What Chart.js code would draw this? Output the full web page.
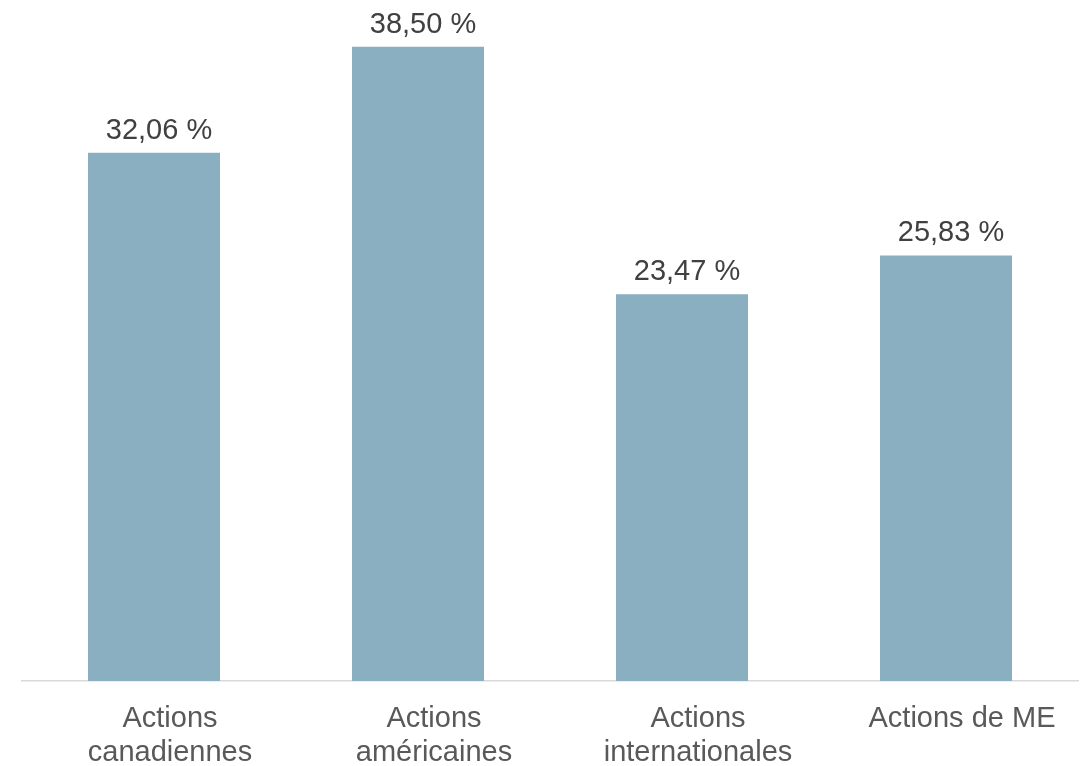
<!DOCTYPE html>
<html>
<head>
<meta charset="utf-8">
<script src="https://cdn.jsdelivr.net/npm/chart.js@4"></script>
<style>
  html, body { margin: 0; padding: 0; background: #ffffff; }
  #wrap { width: 1084px; height: 766px; }
</style>
</head>
<body>
<div id="wrap"><canvas id="allocChart"></canvas></div>
<script>
// Rendement par catégorie d'actions
const categories = [
   ['Actions', 'canadiennes'],
   ['Actions', 'américaines'],
   ['Actions', 'internationales'],
   'Actions de ME'
];
const values = [32.06, 38.50, 23.47, 25.83];

const fontFamily = '"Liberation Sans", Arial, sans-serif';

// etiquettes au-dessus des barres
const barLabels = {
   id: 'barLabels',
   afterDatasetsDraw(chart) {
       const ctx = chart.ctx;
       const meta = chart.getDatasetMeta(0);
       ctx.save();
       ctx.font = '29px ' + fontFamily;
       ctx.fillStyle = '#404040';
       ctx.textAlign = 'center';
       ctx.textBaseline = 'alphabetic';
       meta.data.forEach(function(bar, i) {
           const txt = values[i].toFixed(2).replace('.', ',') + ' %';
           ctx.fillText(txt, bar.x + 5, bar.y - 14);
       });
       ctx.restore();
   }
};

const ctx = document.getElementById('allocChart');

new Chart(ctx, {
type: 'bar',
data: {
   labels: categories,
   datasets: [{
   data: values,
   backgroundColor: '#8aafc0',
   categoryPercentage: 1,
   barPercentage: 0.5
   }]
},
options: {
   responsive: true,
   maintainAspectRatio: false,
   animation: false,
   layout: {
       padding: { top: 22, left: 22, right: 6, bottom: 0 }
   },
   plugins: {
       legend: { display: false },
       tooltip: { enabled: false }
   },
   scales: {
   x: {
       afterFit: function(scale) {
           scale.height = 85;
       },
       grid: { display: false },
       border: {
           display: true,
           color: '#d9d9d9',
           width: 1.5
       },
       ticks: {
           color: '#595959',
           padding: 13,
           labelOffset: 16,
           maxRotation: 0,
           font: {
               family: fontFamily,
               size: 29,
               lineHeight: 1.18
           }
       }
   },
   y: {
       display: false,
       min: 0,
       max: 40
   }
   }
},
plugins: [barLabels]
});
</script>
</body>
</html>
